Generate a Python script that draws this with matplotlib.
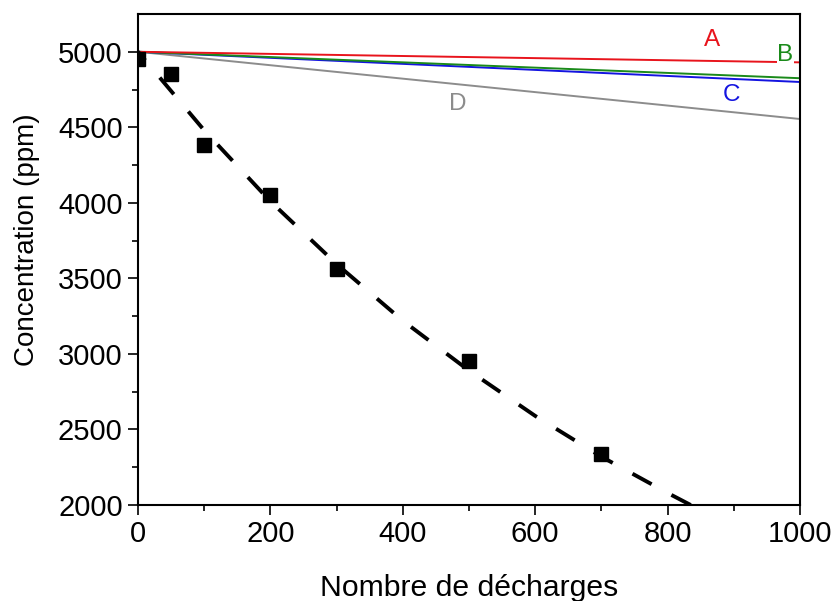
import matplotlib
matplotlib.use("Agg")
import matplotlib.pyplot as plt

plt.rcParams['font.family'] = ['Liberation Sans', 'DejaVu Sans']

# Measured points
x_pts = [0, 50, 100, 200, 300, 500, 700]
y_pts = [4950, 4850, 4380, 4050, 3560, 2955, 2340]

# Dashed fitted curve
x_fit = [0, 100, 200, 300, 400, 500, 600, 700, 800, 835]
y_fit = [5000, 4480, 4010, 3595, 3220, 2890, 2590, 2320, 2080, 2000]

# Model lines A-D
x_line = [0, 1000]
lines_y = {
    'A': [5000, 4930],
    'B': [5000, 4825],
    'C': [5000, 4800],
    'D': [5000, 4555],
}
line_colors = {'A': '#e8141c', 'B': '#1a8a1a', 'C': '#1414e0', 'D': '#8c8c8c'}
label_pos = {'A': (867, 5079), 'B': (978, 4978), 'C': (897, 4714), 'D': (483, 4654)}

fig = plt.figure(figsize=(8.35, 6.01), dpi=100)
ax = fig.add_axes([0.1653, 0.1597, 0.958 - 0.1653, 0.9767 - 0.1597])

for k in ['D', 'C', 'B', 'A']:
    ax.plot(x_line, lines_y[k], color=line_colors[k], lw=1.4, zorder=2)

# drawn from the lower end so the dash pattern starts at the bottom axis
ax.plot(x_fit[::-1], y_fit[::-1], color='black', lw=2.8,
        dashes=(5.6, 5.8), zorder=3)
ax.plot(x_pts, y_pts, linestyle='none', marker='s', markersize=10,
        color='black', zorder=4)

for k, (lx, ly) in label_pos.items():
    kw = {}
    if k == 'B':
        kw['bbox'] = dict(facecolor='white', edgecolor='none', pad=0.5)
    ax.text(lx, ly, k, color=line_colors[k], fontsize=17.5, ha='center',
            va='center', zorder=5, **kw)

ax.set_xlim(0, 1000)
ax.set_ylim(2000, 5250)
ax.set_xticks([0, 200, 400, 600, 800, 1000])
ax.set_xticks([100, 300, 500, 700, 900], minor=True)
ax.set_yticks([2000, 2500, 3000, 3500, 4000, 4500, 5000])
ax.set_yticks([2250, 2750, 3250, 3750, 4250, 4750], minor=True)

ax.tick_params(which='major', direction='out', length=7, width=1.2,
               labelsize=21, pad=4)
ax.tick_params(which='minor', direction='out', length=4, width=1.2)
ax.tick_params(axis='y', which='major', pad=4)
for s in ax.spines.values():
    s.set_linewidth(1.5)

ax.set_xlabel('Nombre de décharges', fontsize=21.7)
ax.set_ylabel('Concentration (ppm)', fontsize=20)
ax.xaxis.set_label_coords(0.5, -0.14)
ax.yaxis.set_label_coords(-0.148, 0.54)

fig.savefig('out.png', dpi=100)
